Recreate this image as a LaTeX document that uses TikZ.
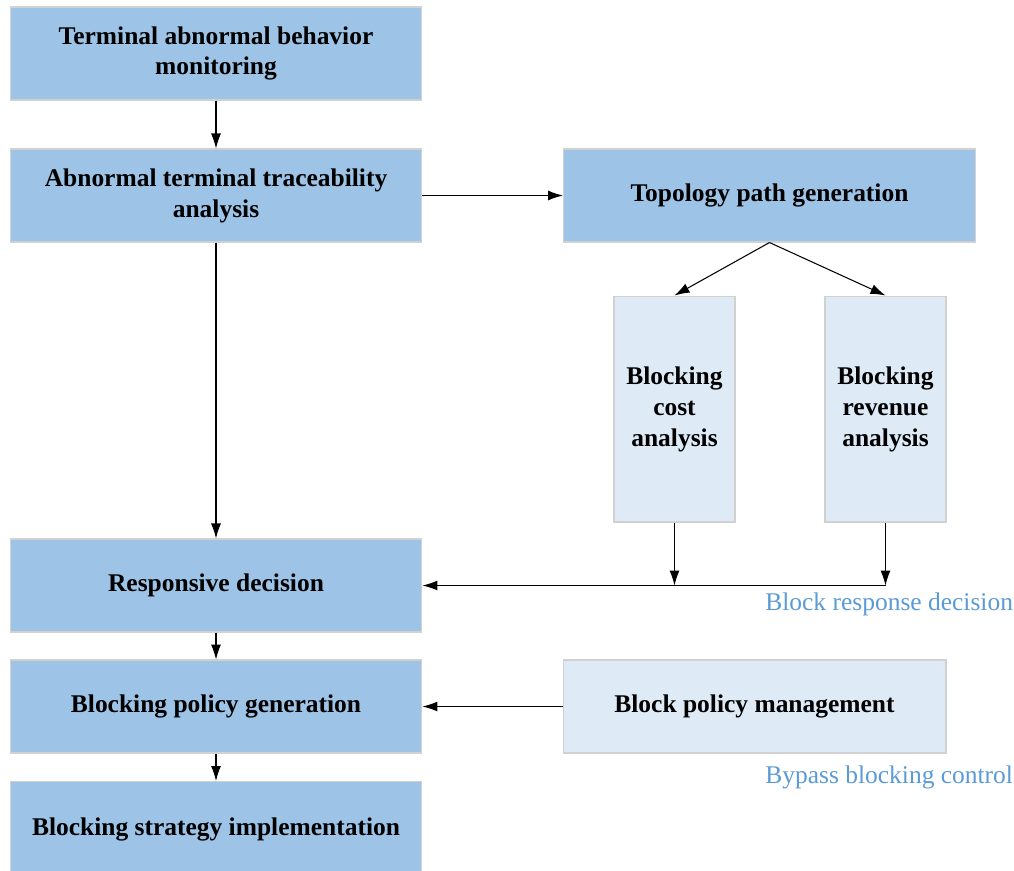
\documentclass[tikz,border=0pt]{standalone}
\usepackage{fontspec}
\setmainfont{Liberation Serif}
\usetikzlibrary{arrows.meta,positioning}

\definecolor{darkblue}{HTML}{9DC3E6}
\definecolor{paleblue}{HTML}{DEEBF7}
\definecolor{labelblue}{HTML}{5B9BD5}

\begin{document}
\begin{tikzpicture}[
  x=0.02cm, y=-0.02cm,
  >={Latex[length=0.3cm,width=0.2cm]},
  font=\fontsize{14.5}{17.6}\selectfont\bfseries,
  box/.style={draw=black!18, line width=0.6pt, fill=darkblue, align=center, inner sep=0pt, minimum width=8.24cm, minimum height=1.86cm},
  sidebox/.style={box, fill=paleblue},
  tallbox/.style={sidebox, minimum width=2.42cm, minimum height=4.52cm},
  note/.style={font=\fontsize{14.5}{17.6}\selectfont, text=labelblue, anchor=base west, inner sep=0pt},
  arrow/.style={->, line width=0.6pt}
]
\useasboundingbox (0,0) rectangle (1014,870);

\node[box] (monitor) at (216,53.5) {Terminal abnormal behavior\\monitoring};
\node[box] (trace) at (216,195.5) {Abnormal terminal traceability\\analysis};
\node[box] (topo) at (769.5,195.5) {Topology path generation};
\node[tallbox] (cost) at (674.5,409) {Blocking\\cost\\analysis};
\node[tallbox] (revenue) at (885.5,409) {Blocking\\revenue\\analysis};
\node[box] (respond) at (216,585.5) {Responsive decision};
\node[box] (policy) at (216,706.5) {Blocking policy generation};
\node[box, minimum height=1.9cm] (strategy) at (216,829) {Blocking strategy implementation};
\node[sidebox, minimum width=7.66cm] (manage) at (754.5,706.5) {Block policy management};

\node[note] (decisionlabel) at (765,610) {Block response decision};
\node[note] (bypasslabel) at (765,783) {Bypass blocking control};

\coordinate (costend) at (cost.south |- respond.east);
\coordinate (revend) at (revenue.south |- respond.east);

\draw[arrow] (monitor) -- (trace);
\draw[arrow] (trace) -- (topo);
\draw[arrow] (trace) -- (respond);
\draw[arrow] (topo.south) -- (cost.north);
\draw[arrow] (topo.south) -- (revenue.north);
\draw[arrow] (cost.south) -- (costend);
\draw[arrow] (revenue.south) -- (revend);
\draw[arrow] (revend) -- (respond.east);
\draw[arrow] (respond) -- (policy);
\draw[arrow] (manage) -- (policy);
\draw[arrow] (policy) -- (strategy);
\end{tikzpicture}
\end{document}
